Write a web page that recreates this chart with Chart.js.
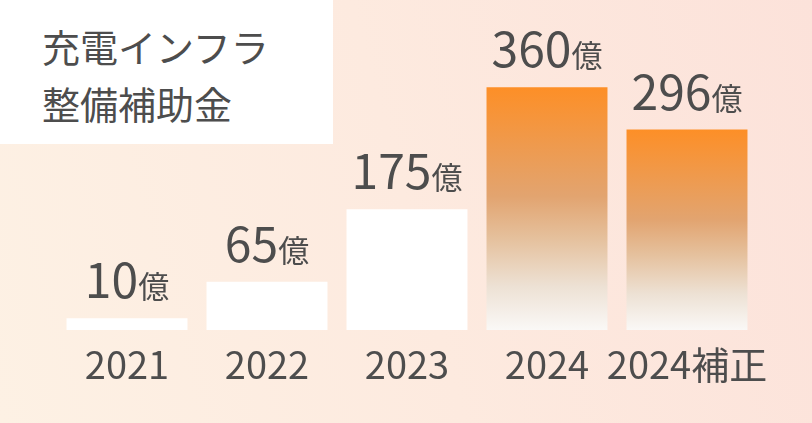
<!DOCTYPE html>
<html lang="ja">
<head>
<meta charset="utf-8">
<script src="https://cdn.jsdelivr.net/npm/chart.js@4.4.1/dist/chart.umd.min.js"></script>
<style>
    html, body { margin: 0; padding: 0; }
    body { width: 812px; height: 423px; overflow: hidden; }
    #wrap {
        position: relative;
        width: 812px;
        height: 423px;
        background: linear-gradient(75deg, #fdf1e4 0%, #fdeadf 50%, #fce2da 100%);
    }
    #title {
        position: absolute;
        left: 0; top: 0;
        width: 333px; height: 144px;
        background: #fff;
        box-sizing: border-box;
        padding: 17px 0 0 42px;
        font-family: 'Noto Sans CJK JP', sans-serif;
        font-size: 38px;
        line-height: 57px;
        color: #4d4d4d;
    }
    #chart { position: absolute; left: 0; top: 0; }
</style>
</head>
<body>
<div id="wrap">
    <canvas id="chart" width="812" height="423"></canvas>
    <div id="title">充電インフラ<br>整備補助金</div>
</div>
<script>
// Data
const years = ['2021', '2022', '2023', '2024', '2024補正'];
const amounts = [10, 65, 175, 360, 296];
const unit = '億';
const highlighted = [false, false, false, true, true];

const TEXT = '#4d4d4d';
const FONT = "'Noto Sans CJK JP', sans-serif";

// Value labels above the bars: big number + smaller unit
const valueLabels = {
    id: 'valueLabels',
    afterDatasetsDraw: (chart) => {
        const ctx = chart.ctx;
        const meta = chart.getDatasetMeta(0);
        ctx.save();
        ctx.fillStyle = TEXT;
        ctx.textBaseline = 'alphabetic';
        ctx.textAlign = 'left';
        meta.data.forEach((bar, i) => {
            const num = String(amounts[i]);
            ctx.font = `48px ${FONT}`;
            const wNum = ctx.measureText(num).width;
            ctx.font = `31px ${FONT}`;
            const wUnit = ctx.measureText(unit).width;
            const x0 = bar.x - (wNum + wUnit) / 2;
            const y = bar.y - 20;
            ctx.font = `48px ${FONT}`;
            ctx.fillText(num, x0, y);
            ctx.font = `31px ${FONT}`;
            ctx.fillText(unit, x0 + wNum, y);
        });
        ctx.restore();
    }
};

const barFill = (c) => {
    const i = c.dataIndex;
    if(!highlighted[i]) return '#ffffff';
    const chart = c.chart;
    const area = chart.chartArea;
    if(!area) return '#f39a4a';
    const top = chart.scales.y.getPixelForValue(amounts[i]);
    const g = chart.ctx.createLinearGradient(0, top, 0, area.bottom);
    g.addColorStop(0, '#fd8f27');
    g.addColorStop(0.45, '#e2a470');
    g.addColorStop(0.62, '#e5c09c');
    g.addColorStop(0.82, '#ede1d4');
    g.addColorStop(1, '#faf8f6');
    return g;
};

new Chart(document.getElementById('chart'), {
    type: 'bar',
    data: {
        labels: years,
        datasets: [{
            data: amounts,
            base: -8,
            backgroundColor: barFill,
            borderWidth: 0,
            barPercentage: 0.864,
            categoryPercentage: 1
        }]
    },
    options: {
        responsive: false,
        animation: false,
        layout: { padding: { left: 57, right: 55, top: 61, bottom: 0 } },
        plugins: { legend: { display: false }, tooltip: { enabled: false } },
        scales: {
            y: { display: false, min: -8, max: 400 },
            x: {
                grid: { display: false, drawTicks: false },
                border: { display: false },
                ticks: {
                    color: TEXT, padding: 12, maxRotation: 0, minRotation: 0, autoSkip: false,
                    font: { family: FONT, size: 38 }
                },
                afterFit: (scale) => { scale.height = 93; }
            }
        }
    },
    plugins: [valueLabels]
});
</script>
</body>
</html>
